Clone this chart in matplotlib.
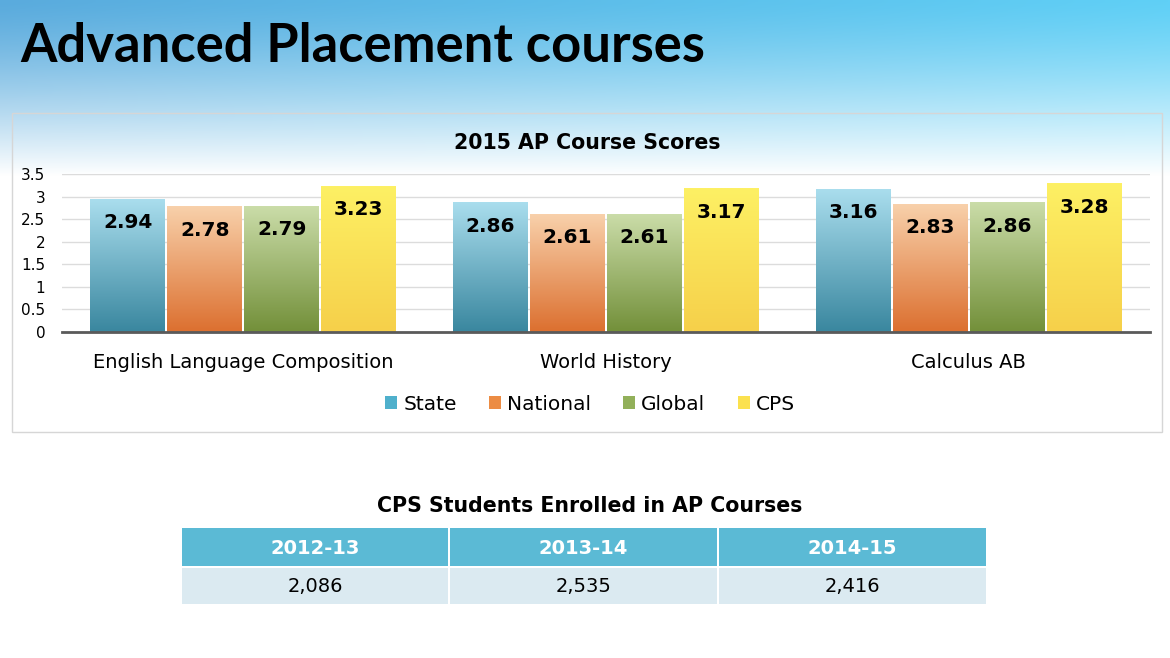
import numpy as np
import matplotlib
matplotlib.use('Agg')
import matplotlib.pyplot as plt
import matplotlib.patches as patches
from matplotlib.colors import to_rgb

courses = ['English Language Composition', 'World History', 'Calculus AB']
series = ['State', 'National', 'Global', 'CPS']
state = [2.94, 2.86, 3.16]
national = [2.78, 2.61, 2.83]
global_ = [2.79, 2.61, 2.86]
cps = [3.23, 3.17, 3.28]
yticks = [0, 0.5, 1, 1.5, 2, 2.5, 3, 3.5]

years = ['2012-13', '2013-14', '2014-15']
enrolled = [2086, 2535, 2416]

# top / bottom colours of the bar gradients
grad = {
    'State': ('#a9dded', '#3a879f'),
    'National': ('#f8d0aa', '#dc7030'),
    'Global': ('#cadca8', '#73903a'),
    'CPS': ('#fdf064', '#f6d04a'),
}
legend_col = {'State': '#4fb0cc', 'National': '#ec8c44', 'Global': '#92b05a', 'CPS': '#fbe14e'}

W, H = 1170, 658
fig = plt.figure(figsize=(W / 100, H / 100), dpi=100)

# slide background: blue gradient fading to white
bg = fig.add_axes([0, 0, 1, 1])
bg.set_xlim(0, W)
bg.set_ylim(H, 0)
bg.axis('off')
yy = np.linspace(0, 1, 200)[:, None]
xx = np.linspace(0, 1, 300)[None, :]
left = np.array(to_rgb('#5aabdd'))
right = np.array(to_rgb('#60d0f6'))
top = left[None, None, :] * (1 - xx[..., None]) + right[None, None, :] * xx[..., None]
t = np.clip(yy * H / 175.0, 0, 1)[..., None] ** 1.3
img = top * (1 - t) + np.ones(3) * t
bg.imshow(img, extent=(0, W, H, 0), aspect='auto', interpolation='bilinear', zorder=0)

bg.text(20, 46, 'Advanced Placement courses', fontsize=37.8, fontweight='bold',
        family='Lato', va='center', ha='left', color='black')

# chart panel
bg.add_patch(patches.Rectangle((12, 113), 1150, 319, facecolor='none',
                               edgecolor='#d6d6d6', linewidth=1, zorder=2))
bg.text(587, 143, '2015 AP Course Scores', fontsize=14.8, fontweight='bold',
        ha='center', va='center')

ax = fig.add_axes([62 / W, (H - 332) / H, 1088 / W, 158 / H])
ax.patch.set_alpha(0)
values = [state, national, global_, cps]
x = np.arange(len(courses))
w = 0.2125
for i, (name, vals) in enumerate(zip(series, values)):
    c_top, c_bot = np.array(to_rgb(grad[name][0])), np.array(to_rgb(grad[name][1]))
    s = np.linspace(0, 1, 64)[:, None, None]
    g = c_top * (1 - s) + c_bot * s
    for j, v in enumerate(vals):
        cx = x[j] + (i - 1.5) * w
        ax.imshow(g, extent=(cx - w / 2 + 0.003, cx + w / 2 - 0.003, 0, v),
                  aspect='auto', interpolation='bilinear', zorder=2)
        ax.annotate(f'{v:.2f}', (cx, v), xytext=(0, -17), textcoords='offset points',
                    ha='center', va='center', fontsize=14.5, fontweight='bold', zorder=3)

ax.set_xlim(-0.5, 2.5)
ax.set_ylim(0, 3.5)
ax.set_yticks(yticks)
ax.set_yticklabels([f'{v:g}' for v in yticks], fontsize=11)
ax.set_xticks(x)
ax.set_xticklabels(courses, fontsize=14)
ax.tick_params(axis='y', length=0, pad=12)
ax.tick_params(axis='x', length=0, pad=15)
ax.grid(axis='y', color='#dcdcdc', linewidth=1, zorder=0)
for sp in ['top', 'right', 'left']:
    ax.spines[sp].set_visible(False)
ax.spines['bottom'].set_color('#5a5a5a')
ax.spines['bottom'].set_linewidth(2)
ax.spines['bottom'].set_zorder(4)

handles = [patches.Patch(facecolor=legend_col[n], edgecolor='none') for n in series]
fig.legend(handles, series, loc='center', bbox_to_anchor=(590 / W, 1 - 404 / H),
           ncol=4, frameon=False, fontsize=14.5, handlelength=0.6, handleheight=0.6,
           handletextpad=0.3, columnspacing=1.6)

# enrolment table
bg.text(590, 506, 'CPS Students Enrolled in AP Courses', fontsize=14.8,
        fontweight='bold', ha='center', va='center')
edges = [181, 449, 718, 987]
for k in range(len(years)):
    x0, x1 = edges[k], edges[k + 1]
    bg.add_patch(patches.Rectangle((x0 + 1, 528), x1 - x0 - 2, 38,
                                   facecolor='#5bbad5', edgecolor='none', zorder=2))
    bg.add_patch(patches.Rectangle((x0 + 1, 568), x1 - x0 - 2, 36,
                                   facecolor='#dbeaf1', edgecolor='none', zorder=2))
    bg.text((x0 + x1) / 2, 548, years[k], color='white', fontsize=14,
            fontweight='bold', ha='center', va='center', zorder=3)
    bg.text((x0 + x1) / 2, 587, f'{enrolled[k]:,}', color='black', fontsize=14,
            ha='center', va='center', zorder=3)

fig.savefig('out.png', dpi=100)
